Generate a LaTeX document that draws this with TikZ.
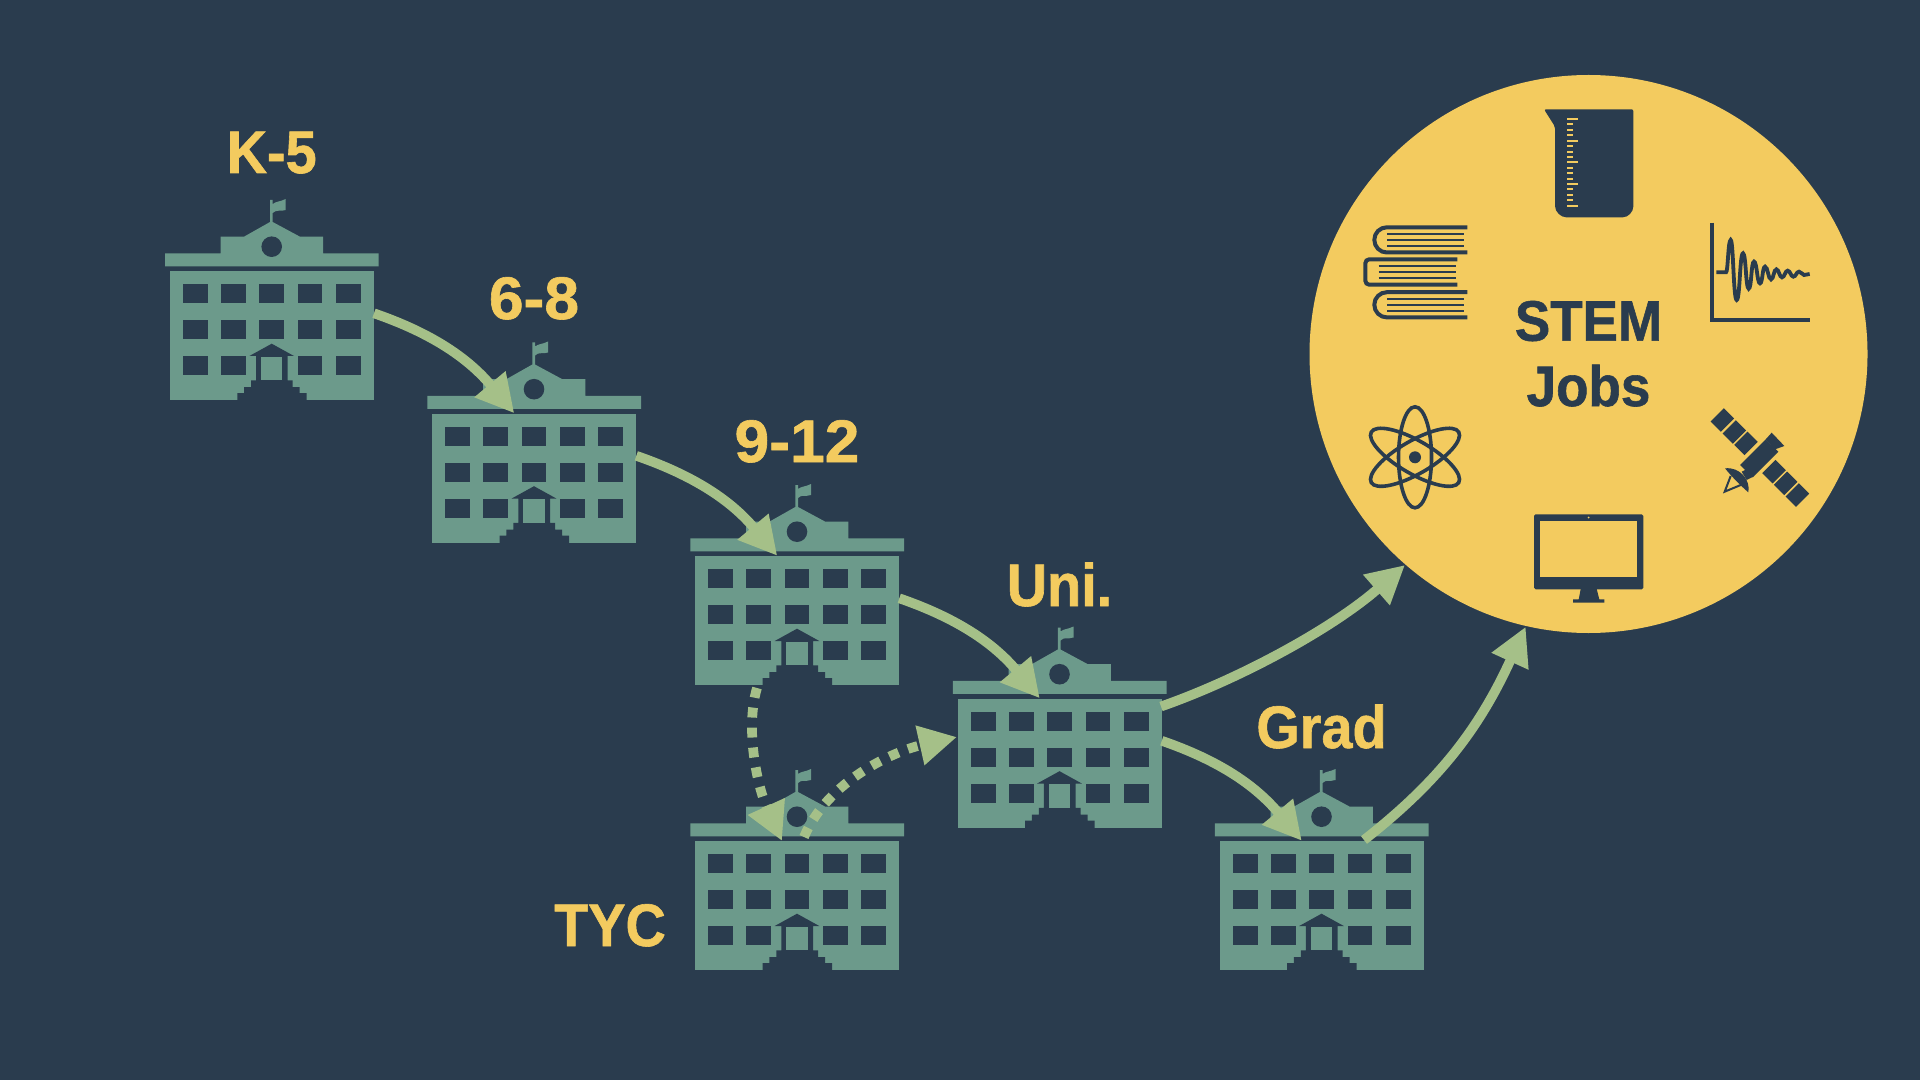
\documentclass[tikz,border=0pt]{standalone}
\usepackage{fontspec}
\setmainfont{Liberation Sans}[FakeStretch=0.93,BoldFeatures={FakeBold=1}]
\newfontfamily\widelab{Liberation Sans}[FakeStretch=1.04,BoldFeatures={FakeBold=1}]
\usetikzlibrary{arrows.meta}
\definecolor{bg}{HTML}{2A3C4E}
\definecolor{sun}{HTML}{F3CB5F}
\definecolor{bld}{HTML}{6C9A8B}
\definecolor{arr}{HTML}{A5C088}
\tikzset{
  bldgbox/.style={minimum width=102pt,minimum height=100pt,inner sep=0pt,outer sep=0pt},
  conn/.style={draw=arr,line width=4.85pt,-{Triangle[length=19pt,width=19pt,fill=arr]}},
  dotconn/.style={conn,dash pattern=on 5pt off 5pt},
  lab/.style={font=\fontsize{30}{32}\selectfont\bfseries,text=sun,anchor=base,inner sep=0pt},
  numlab/.style={font=\widelab\fontsize{30}{32}\selectfont\bfseries,text=sun,anchor=base,inner sep=0pt},
  jobtxt/.style={font=\fontsize{28.5}{30}\selectfont\bfseries,text=bg,anchor=base,inner sep=0pt},
  ink/.style={draw=bg,fill=none,line width=2pt},
  zoomA/.style={shift={(1600,190)},x=0.16667pt,y=-0.16667pt},
}
\newcommand{\bldg}[3]{%
  \node[bldgbox] (#1) at (#2,#3+100) {};
  \begin{scope}[shift={(#2,#3)}]
    \fill[bld] (-1.7,0) -- (1,0) -- (1,4) .. controls (5,1) and (8,2) .. (14,-1) -- (14,10) .. controls (8,12) and (5,9) .. (1,13) -- (1,22) -- (28.3,36.7) -- (51.3,36.7) -- (51.3,53.3) -- (107,53.3) -- (107,66.3) -- (-106.7,66.3) -- (-106.7,53.3) -- (-51,53.3) -- (-51,36.7) -- (-27.7,36.7) -- (-1.7,22) -- cycle;
    \fill[bg] (0,46.7) circle[radius=10.3];
    \fill[bld] (-101.7,71.3) rectangle (102,200);
    \foreach \xa/\xb in {-89/-64,-50.7/-25.7,-12.3/12.3,26/50.7,64.3/89}
      \foreach \ya/\yb in {84/103,120/139}
        \fill[bg] (\xa,\ya) rectangle (\xb,\yb);
    \foreach \xa/\xb in {-89/-64,-50.7/-25.7,26/50.7,64.3/89}
      \fill[bg] (\xa,156) rectangle (\xb,175);
    \fill[bg] (0,143.7) -- (22.3,156) -- (16,156) -- (16,180.3) -- (21,180.3) -- (21,187) -- (28,187) -- (28,193) -- (35,193) -- (35,201) -- (-34.3,201) -- (-34.3,193) -- (-27.7,193) -- (-27.7,187) -- (-20.7,187) -- (-20.7,180.3) -- (-15.7,180.3) -- (-15.7,156) -- (-22.3,156) -- cycle;
    \fill[bld] (-10.7,156.7) rectangle (10.7,180.3);
  \end{scope}%
}
\begin{document}
\begin{tikzpicture}[x=0.5pt,y=-0.5pt]
\useasboundingbox (0,0) rectangle (1920,1080);
\fill[bg] (0,0) rectangle (1920,1080);

% circle
\node[circle,fill=sun,draw=none,minimum size=279pt,inner sep=0pt,outer sep=0pt] (jobs) at (1588.5,354) {};

% buildings
\bldg{kfive}{271.7}{200}
\bldg{mid}{534}{342.5}
\bldg{high}{797}{485}
\bldg{uni}{1059.5}{627.5}
\bldg{grad}{1321.5}{770}
\bldg{tyc}{797}{770}

% labels
\node[lab] (lkfive) at (271.7,173) {K-5};
\node[numlab] (lmid) at (534,319) {6-8};
\node[numlab] (lhigh) at (797,462) {9-12};
\node[lab] (luni) at (1059.5,606) {Uni.};
\node[lab] (lgrad) at (1321.5,748) {Grad};
\node[lab] (ltyc) at (610,946) {TYC};
\node[jobtxt] (lstem) at (1588.5,340.7) {STEM};
\node[jobtxt] (ljobs) at (1588.5,406) {Jobs};

% connectors
\draw[conn] ([shift={(102.3,13.3)}]kfive.center) .. controls +(58,20) and +(-46,-55) .. ([shift={(-19.7,-29.2)}]mid.center);
\draw[conn] ([shift={(102.3,13.3)}]mid.center) .. controls +(58,20) and +(-46,-55) .. ([shift={(-19.7,-29.2)}]high.center);
\draw[conn] ([shift={(102.3,13.3)}]high.center) .. controls +(58,20) and +(-46,-55) .. ([shift={(-19.7,-29.2)}]uni.center);
\draw[conn] ([shift={(102.3,13.3)}]uni.center) .. controls +(58,20) and +(-46,-55) .. ([shift={(-19.7,-29.2)}]grad.center);
\coordinate (jobsa) at (1405,565);
\coordinate (jobsb) at (1525.7,626.7);
\draw[conn] ([shift={(101.5,-21)}]uni.center) .. controls +(80,-28) and +(-72,63) .. (jobsa);
\draw[conn] ([shift={(42.5,-30)}]grad.center) .. controls +(74,-58) and +(-47,103) .. (jobsb);
\draw[dotconn] ([shift={(-40,103)}]high.center) .. controls +(-12,40) and +(-25,-55) .. ([shift={(-15,-29)}]tyc.center);
\draw[dotconn] ([shift={(7,-33)}]tyc.center) .. controls +(24,-57) and +(-62,14) .. ([shift={(-102.5,9.5)}]uni.center);

% beaker
\fill[bg,rounded corners=1pt] (1544,109.3) -- (1633.4,109.3) -- (1633.4,204) .. controls (1633.4,212) and (1628,217.3) .. (1621,217.3) -- (1568,217.3) .. controls (1561,217.3) and (1555,212) .. (1555,204) -- (1555,126.7) -- cycle;
\foreach \i in {0,...,16}{
  \pgfmathsetmacro{\yy}{119+5.42*\i}
  \pgfmathtruncatemacro{\md}{mod(\i,4)}
  \ifnum\md=0 \fill[sun] (1566.7,\yy-1) rectangle (1578.3,\yy+1);
  \else \fill[sun] (1566.7,\yy-1) rectangle (1573.3,\yy+1);\fi
}

% books
\foreach \t/\bxa/\bxb in {227.3/1387/1464,292.2/1387/1464}{
  \draw[ink] (1467.3,\t) -- (1386.9,\t) .. controls (1379.9,\t) and (1374.3,\t+5.6) .. (1374.3,\t+12.6) .. controls (1374.3,\t+19.6) and (1379.9,\t+25.2) .. (1386.9,\t+25.2) -- (1467.3,\t+25.2);
  \foreach \d in {6.8,12.7,18.4}
    \draw[bg,line width=1pt] (\bxa,\t+\d) -- (\bxb,\t+\d);
}
\draw[ink,rounded corners=2pt] (1457.3,259.3) -- (1365.3,259.3) -- (1365.3,284.7) -- (1457.3,284.7);
\foreach \d in {266,272,278}
  \draw[bg,line width=1pt] (1378.7,\d) -- (1455.7,\d);

% signal
\begin{scope}[zoomA]
  \draw[bg,line width=2pt,line cap=butt] (335,98) -- (335,390) -- (629,390);
  \draw[bg,line width=1.9pt] (349,247) -- (378,247) .. controls (384,247) and (384,150) .. (392,150)
    .. controls (400,150) and (400,330) .. (410,330)
    .. controls (420,330) and (419,190) .. (429,190)
    .. controls (438,190) and (437,296) .. (446,296)
    .. controls (455,296) and (453,215) .. (462,215)
    .. controls (471,215) and (471,280) .. (480,280)
    .. controls (488,280) and (487,230) .. (495,230)
    .. controls (504,230) and (504,268) .. (513,268)
    .. controls (521,268) and (521,238) .. (529,238)
    .. controls (537,238) and (538,262) .. (546,262)
    .. controls (554,262) and (555,242) .. (563,242)
    .. controls (571,242) and (572,260) .. (580,260)
    .. controls (588,260) and (589,245) .. (597,245)
    .. controls (605,245) and (606,255) .. (612,255)
    .. controls (618,255) and (622,252) .. (629,252);
  % satellite
  \foreach \c in {(367,690),(403,726),(438,760),(522,845),(557,880),(592,915)}
    \fill[bg,shift={\c},rotate=-45] (-22,-28) rectangle (22,28);
  \fill[bg] (420,825) -- (497,748) -- (535,785) -- (458,862) -- cycle;
  \fill[bg] (497,748) -- (515,728) -- (553,768) -- (525,778) -- cycle;
  \fill[bg] (375,835) .. controls (420,830) and (452,870) .. (445,907) .. controls (425,890) and (395,860) .. (375,835) -- cycle;
  \fill[bg] (425,845) -- (445,835) -- (460,860) -- (440,870) -- cycle;
  \draw[bg,line width=1pt] (392,858) -- (374,905) -- (422,885);
\end{scope}

% atom
\begin{scope}[shift={(1415,457.3)}]
  \fill[bg] (0,0) circle[radius=6];
  \foreach \a in {0,60,120}
    \draw[bg,line width=1.8pt,rotate=\a] (0,0) circle[x radius=16.5,y radius=50.5];
\end{scope}

% monitor
\fill[bg,rounded corners=0.8pt] (1534,514.3) rectangle (1643.3,589.3);
\fill[sun] (1540,521.3) rectangle (1637.3,576.7);
\fill[sun] (1588.7,517.5) circle[radius=1];
\fill[bg] (1580.7,589) -- (1596.7,589) -- (1599.3,599.3) -- (1604.3,599.3) -- (1604.3,602.7) -- (1573,602.7) -- (1573,599.3) -- (1578.7,599.3) -- cycle;
\end{tikzpicture}
\end{document}
